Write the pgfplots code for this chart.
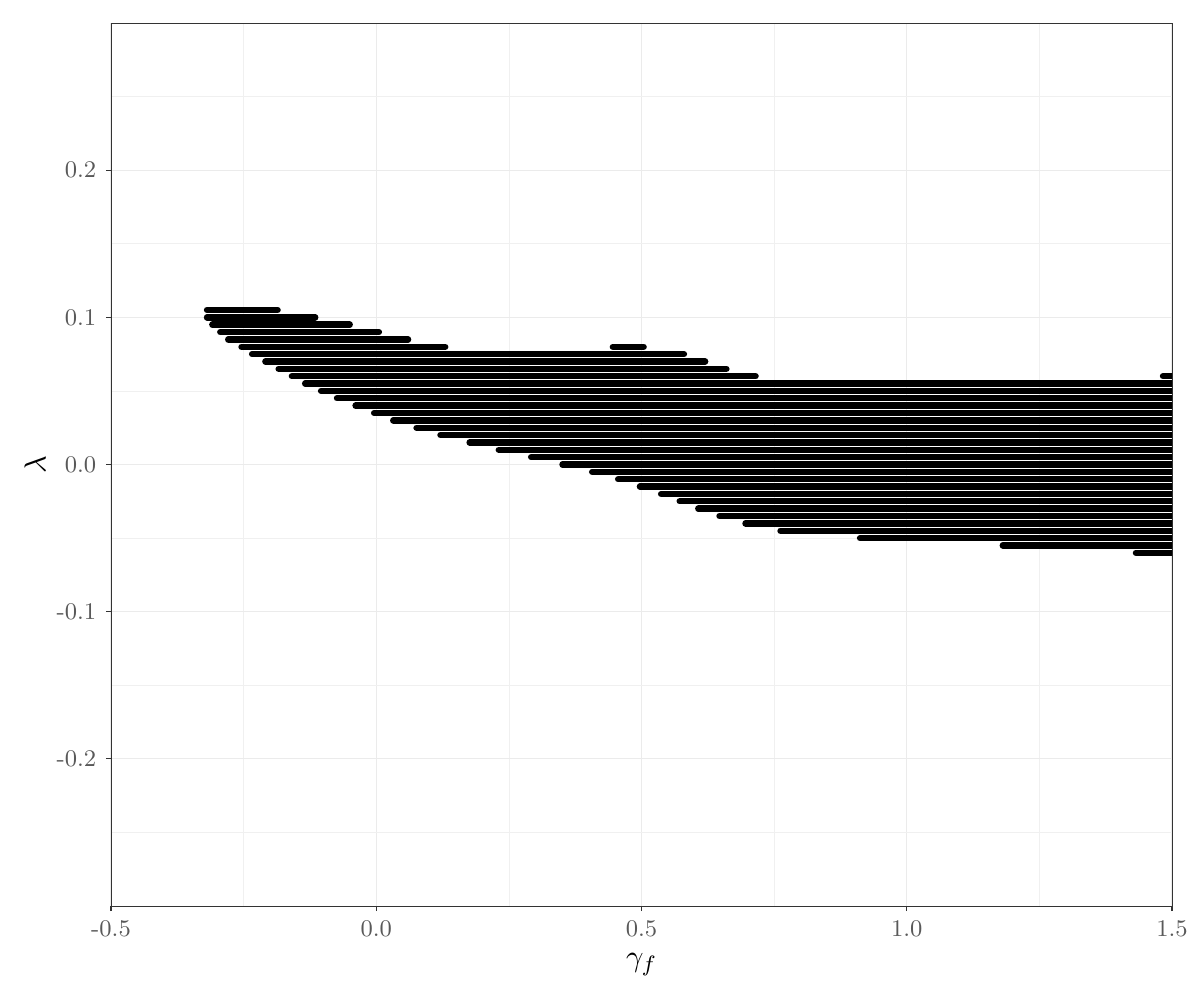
\documentclass[border=0pt]{standalone}
\usepackage{pgfplots}
\pgfplotsset{compat=1.18}
\begin{document}
\begin{tikzpicture}
\begin{axis}[
  scale only axis, width=381.96pt, height=317.88pt,
  xmin=-0.5, xmax=1.5, ymin=-0.3, ymax=0.3,
  xtick={-0.5,0,0.5,1,1.5}, xticklabels={-0.5,0.0,0.5,1.0,1.5},
  ytick={-0.2,-0.1,0,0.1,0.2}, yticklabels={-0.2,-0.1,0.0,0.1,0.2},
  minor xtick={-0.25,0.25,0.75,1.25},
  minor ytick={-0.25,-0.15,-0.05,0.05,0.15,0.25},
  grid=both,
  major grid style={color=black!8, line width=0.4pt},
  minor grid style={color=black!6, line width=0.25pt},
  tick align=outside, xtick pos=bottom, ytick pos=left,
  major tick length=1.8pt, minor tick length=0pt,
  every tick/.style={color=black!80, line width=0.4pt},
  axis line style={color=black!80, line width=0.32pt},
  ticklabel style={font=\fontsize{8.6}{10}\selectfont, text=black!65},
  xlabel={$\gamma_f$}, ylabel={$\lambda$},
  xlabel style={at={(axis description cs:0.5,-0.0668)}, anchor=center, font=\fontsize{11}{13}\selectfont},
  ylabel style={at={(axis description cs:-0.0716,0.5)}, anchor=center, font=\fontsize{11}{13}\selectfont},
  clip=true,
]
\addplot[black, line width=2.3pt, line cap=round, empty line=jump] table {
x y
-0.319 0.105
-0.186 0.105

-0.319 0.100
-0.115 0.100

-0.309 0.095
-0.050 0.095

-0.294 0.090
0.005 0.090

-0.279 0.085
0.060 0.085

-0.254 0.080
0.130 0.080

0.446 0.080
0.504 0.080

-0.234 0.075
0.580 0.075

-0.209 0.070
0.620 0.070

-0.184 0.065
0.660 0.065

-0.159 0.060
0.715 0.060

1.483 0.060
1.560 0.060

-0.134 0.055
1.560 0.055

-0.104 0.050
1.560 0.050

-0.074 0.045
1.560 0.045

-0.039 0.040
1.560 0.040

-0.004 0.035
1.560 0.035

0.032 0.030
1.560 0.030

0.076 0.025
1.560 0.025

0.121 0.020
1.560 0.020

0.176 0.015
1.560 0.015

0.231 0.010
1.560 0.010

0.292 0.005
1.560 0.005

0.351 0.000
1.560 0.000

0.407 -0.005
1.560 -0.005

0.456 -0.010
1.560 -0.010

0.497 -0.015
1.560 -0.015

0.537 -0.020
1.560 -0.020

0.572 -0.025
1.560 -0.025

0.607 -0.030
1.560 -0.030

0.647 -0.035
1.560 -0.035

0.696 -0.040
1.560 -0.040

0.762 -0.045
1.560 -0.045

0.912 -0.050
1.560 -0.050

1.181 -0.055
1.560 -0.055

1.432 -0.060
1.560 -0.060
};
\coordinate (bl) at (rel axis cs:0,0);
\coordinate (tr) at (rel axis cs:1,1);
\end{axis}
\pgfresetboundingbox
\path ([shift={(-39.96pt,-33.84pt)}]bl) rectangle ([shift={(10.08pt,8.28pt)}]tr);
\end{tikzpicture}
\end{document}
